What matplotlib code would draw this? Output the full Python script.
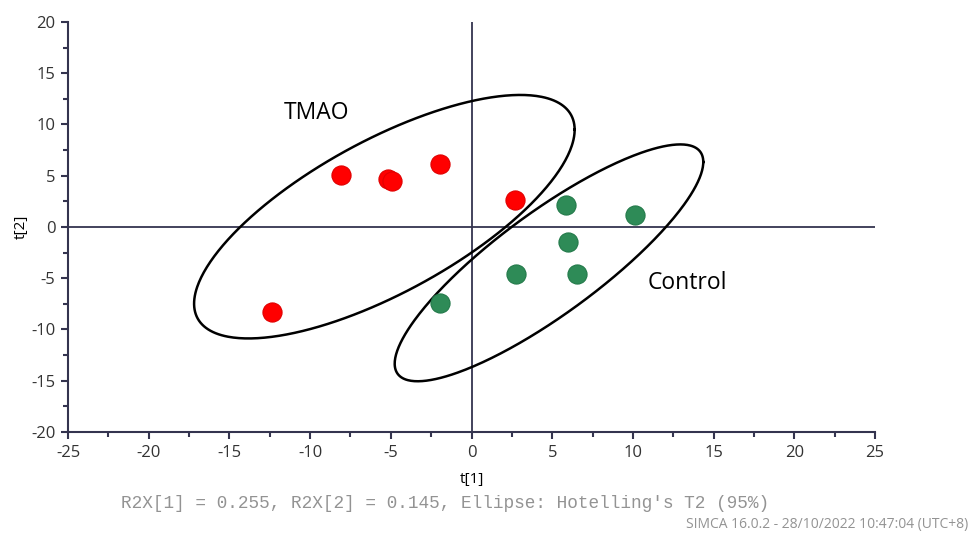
import numpy as np
import matplotlib
matplotlib.use("Agg")
import matplotlib.pyplot as plt

plt.rcParams["axes.unicode_minus"] = False

# Scores
tmao_t1 = [-8.1, -5.2, -4.9, -1.95, 2.7, -12.35]
tmao_t2 = [5.05, 4.7, 4.5, 6.15, 2.6, -8.3]
ctrl_t1 = [5.85, 10.15, 5.95, 2.75, 6.55, -1.95]
ctrl_t2 = [2.15, 1.2, -1.5, -4.6, -4.6, -7.45]

# Hotelling ellipses (center, covariance shape)
tmao_center = [-5.4, 1.0]
tmao_cov = [[139.0, 100.0], [100.0, 141.0]]
ctrl_center = [4.8, -3.5]
ctrl_cov = [[91.4, 94.0], [94.0, 133.4]]

xticks = [-25, -20, -15, -10, -5, 0, 5, 10, 15, 20, 25]
yticks = [-20, -15, -10, -5, 0, 5, 10, 15, 20]

axis_col = "#34344f"

fig = plt.figure(figsize=(9.72, 5.34), dpi=100)
ax = fig.add_axes([0.07, 0.191, 0.8302, 0.768])
ax.set_xlim(-25, 25)
ax.set_ylim(-20, 20)

ax.axhline(0, color=axis_col, lw=1.3, zorder=1)
ax.axvline(0, color=axis_col, lw=1.3, zorder=1)

def ell(center, cov):
    t = np.linspace(0, 2 * np.pi, 400)
    L = np.linalg.cholesky(np.array(cov))
    pts = L @ np.vstack([np.cos(t), np.sin(t)])
    return center[0] + pts[0], center[1] + pts[1]

for c, cv in [(tmao_center, tmao_cov), (ctrl_center, ctrl_cov)]:
    ex, ey = ell(c, cv)
    ax.plot(ex, ey, color="black", lw=1.8, zorder=2)

ax.scatter(tmao_t1, tmao_t2, s=190, color="#ff0000", edgecolors="#e00000", linewidths=0.8, zorder=3)
ax.scatter(ctrl_t1, ctrl_t2, s=190, color="#2e8b57", edgecolors="#237a4a", linewidths=0.8, zorder=3)

ax.text(-9.6, 11.1, "TMAO", fontsize=16.5, family="Open Sans", ha="center", va="center")
ax.text(13.4, -5.5, "Control", fontsize=16.5, family="Open Sans", ha="center", va="center")

for s in ["top", "right"]:
    ax.spines[s].set_visible(False)
for s in ["left", "bottom"]:
    ax.spines[s].set_color(axis_col)
    ax.spines[s].set_linewidth(1.5)

ax.set_xticks(xticks)
ax.set_yticks(yticks)
ax.set_xticks(np.arange(-22.5, 25, 5), minor=True)
ax.set_yticks(np.arange(-17.5, 20, 5), minor=True)
ax.tick_params(which="major", length=5, width=1.5, color=axis_col, labelsize=12, pad=4)
ax.tick_params(which="minor", length=3.5, width=1.5, color=axis_col)
for lab in ax.get_xticklabels() + ax.get_yticklabels():
    lab.set_family("Open Sans")
    lab.set_color("#333333")

ax.set_xlabel("t[1]", fontsize=11, family="Open Sans", labelpad=8)
ax.set_ylabel("t[2]", fontsize=11, family="Open Sans", labelpad=2)

fig.text(0.458, 0.058, "R2X[1] = 0.255, R2X[2] = 0.145, Ellipse: Hotelling's T2 (95%)",
         family="Liberation Mono", fontsize=12.8, color="#939393", ha="center", va="center")
fig.text(0.996, 0.018, "SIMCA 16.0.2 - 28/10/2022 10:47:04 (UTC+8)",
         family="Open Sans", fontsize=10, color="#939393", ha="right", va="center")

fig.savefig("out.png", dpi=100, facecolor="white")
